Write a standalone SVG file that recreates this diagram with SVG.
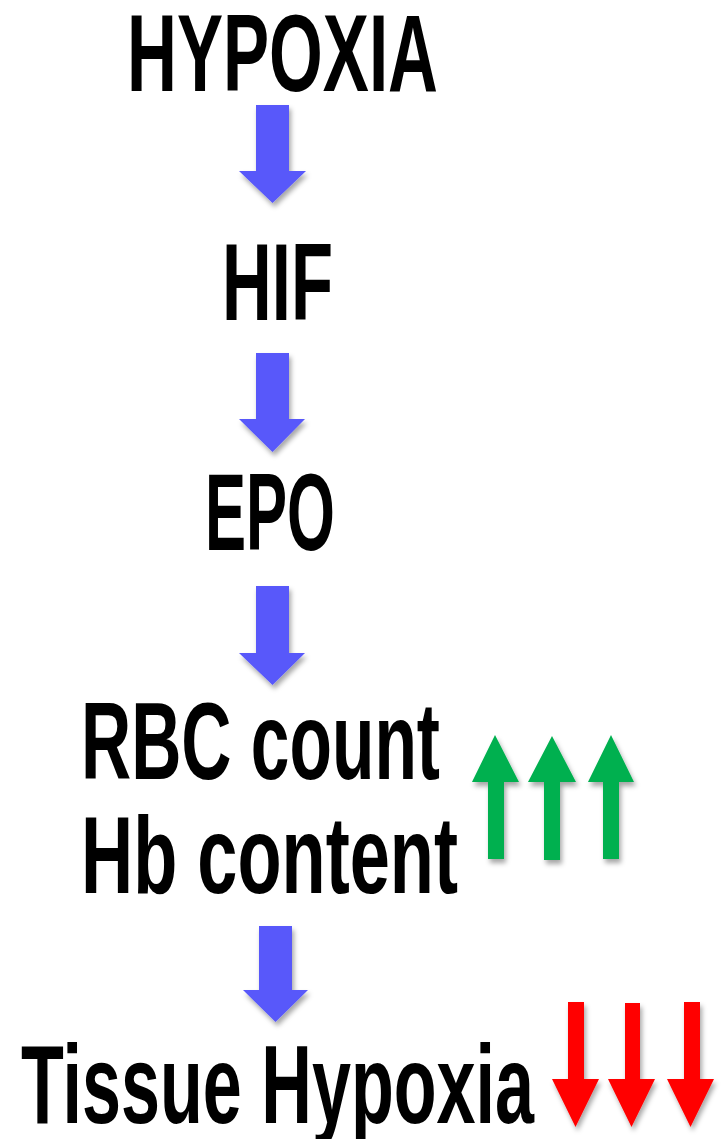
<svg xmlns="http://www.w3.org/2000/svg" width="722" height="1139" viewBox="0 0 722 1139">
  <style>
    .lbl { font-family: "Liberation Sans", Arial, sans-serif; font-weight: bold; font-size: 110px; fill: #000; }
    .flow { fill: #5858FA; }
    .up { fill: #00B050; }
    .down { fill: #FF0000; }
  </style>
  <defs>
    <filter id="sh" x="-30%" y="-20%" width="160%" height="150%">
      <feDropShadow dx="2" dy="4" stdDeviation="2.5" flood-color="#000" flood-opacity="0.35"/>
    </filter>
  </defs>
  <rect width="722" height="1139" fill="#fff"/>

  <g id="node-hypoxia"><text class="lbl" x="127" y="91" textLength="311" lengthAdjust="spacingAndGlyphs">HYPOXIA</text></g>
  <g id="node-hif"><text class="lbl" x="222" y="320" textLength="111" lengthAdjust="spacingAndGlyphs">HIF</text></g>
  <g id="node-epo"><text class="lbl" x="205" y="550" textLength="130" lengthAdjust="spacingAndGlyphs">EPO</text></g>
  <g id="node-rbc">
    <text class="lbl" x="81" y="779" textLength="359" lengthAdjust="spacingAndGlyphs">RBC count</text>
    <text class="lbl" x="81" y="893" textLength="377" lengthAdjust="spacingAndGlyphs">Hb content</text>
  </g>
  <g id="node-tissue"><text class="lbl" x="21" y="1123" style="font-size:112px" textLength="513" lengthAdjust="spacingAndGlyphs">Tissue Hypoxia</text></g>

  <g id="connectors" filter="url(#sh)">
    <polygon class="flow" points="256,105 289,105 289,171 306,171 272.5,203 239,171 256,171"/>
    <polygon class="flow" points="256,353 289,353 289,419 305,419 272.5,452 239,419 256,419"/>
    <polygon class="flow" points="256,586 289,586 289,653 305,653 272.5,685 239,653 256,653"/>
    <polygon class="flow" points="259,926 292,926 292,990 308,990 275.5,1022 243,990 259,990"/>
  </g>

  <g id="increase-arrows" filter="url(#sh)">
    <polygon class="up" points="495,735 519,782 504,782 504,859 488,859 488,782 472,782"/>
    <polygon class="up" points="552,736 576,782 560,782 560,860 544,860 544,782 528,782"/>
    <polygon class="up" points="611,735 634,782 619,782 619,859 603,859 603,782 588,782"/>
  </g>

  <g id="decrease-arrows" filter="url(#sh)">
    <polygon class="down" points="568,1002 584,1002 584,1079 599,1079 575.5,1127 552,1079 568,1079"/>
    <polygon class="down" points="625,1003 640,1003 640,1079 655,1079 631.5,1127 608,1079 625,1079"/>
    <polygon class="down" points="684,1002 700,1002 700,1079 714,1079 690.5,1127 667,1079 684,1079"/>
  </g>
</svg>
